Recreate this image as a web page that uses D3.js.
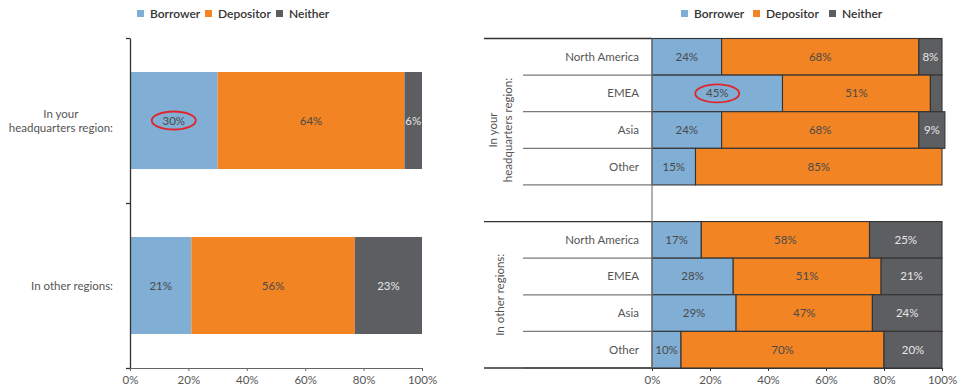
<!DOCTYPE html>
<html><head><meta charset="utf-8">
<script src="https://cdn.jsdelivr.net/npm/d3@7"></script>
<style>
html,body{margin:0;padding:0;background:#fff;}
svg{display:block;font-family:Lato,"Open Sans",sans-serif;}
</style></head>
<body><svg id="c" width="970" height="392"></svg>
<script>
const seriesNames = ["Borrower","Depositor","Neither"];
const seriesColors = ["#80aed4","#f28423","#5d5e62"];
const tickValues = [0,20,40,60,80,100];
const tickLabels = ["0%","20%","40%","60%","80%","100%"];

// Left chart
const leftCategories = ["In your\nheadquarters region:","In other regions:"];
const leftBorrower = [30,21];
const leftDepositor = [64,56];
const leftNeither = [6,23];

// Right chart
const rightGroups = ["In your\nheadquarters region:","In other regions:"];
const rightRegions = ["North America","EMEA","Asia","Other"];
const rightHqBorrower = [24,45,24,15];
const rightHqDepositor = [68,51,68,85];
const rightHqNeither = [8,4,9,0];
const rightOtherBorrower = [17,28,29,10];
const rightOtherDepositor = [58,51,47,70];
const rightOtherNeither = [25,21,24,20];

const svg = d3.select("#c");
const labelColor = "#555";

function legend(x0, offsets){
  const g = svg.append("g");
  seriesNames.forEach((s,i)=>{
    g.append("rect").attr("x",x0+offsets[i]).attr("y",10).attr("width",7).attr("height",7).attr("fill",seriesColors[i]);
    g.append("text").attr("x",x0+offsets[i]+13).attr("y",18).attr("font-size",12).attr("font-weight",600)
      .attr("fill","#333").text(s);
  });
}
legend(137,[0,68,139]);
legend(681,[0,72,148]);

function stack(b,d,n){
  return b.map((v,i)=>{
    const vals=[b[i],d[i],n[i]]; let acc=0;
    return vals.map((val,k)=>{const o={k,v:val,x0:acc,x1:acc+val}; acc+=val; return o;});
  });
}

// ---------- LEFT ----------
const xL = d3.scaleLinear().domain([0,100]).range([130,422]);
const yL = d3.scaleBand().domain(d3.range(leftCategories.length)).range([38,368]).paddingInner(0.412).paddingOuter(0.206);
const leftStack = stack(leftBorrower,leftDepositor,leftNeither);
leftStack.forEach((row,i)=>{
  const g = svg.append("g");
  row.forEach(s=>{
    if(s.v<=0) return;
    g.append("rect").attr("x",xL(s.x0)).attr("y",yL(i)).attr("width",xL(s.x1)-xL(s.x0)).attr("height",yL.bandwidth())
      .attr("fill",seriesColors[s.k]);
    if(s.v>=5) g.append("text").attr("x",(xL(s.x0)+xL(s.x1))/2).attr("y",yL(i)+yL.bandwidth()/2).attr("dy","0.35em")
      .attr("text-anchor","middle").attr("font-size",11.5).attr("fill",s.k===2?"#e6e6e6":"#4a4a4a").text(s.v+"%");
  });
});
// left y axis
const yLlin = d3.scaleLinear().domain([0,leftCategories.length]).range([38,368]);
const yAxL = svg.append("g").attr("transform","translate(130,0)")
  .call(d3.axisLeft(yLlin).tickValues(d3.range(leftCategories.length+1)).tickFormat("").tickSize(4).tickSizeOuter(0));
yAxL.selectAll("path,line").attr("stroke","#333").attr("stroke-width",1.3);
// left x axis
const xAxL = svg.append("g").attr("transform","translate(0,368)")
  .call(d3.axisBottom(xL).tickValues(tickValues).tickFormat((d,i)=>tickLabels[i]).tickSize(3).tickSizeOuter(0));
xAxL.select("path").attr("stroke","#666");
xAxL.selectAll("line").attr("stroke","#666");
xAxL.selectAll("text").attr("font-size",11.5).attr("fill",labelColor).attr("dy","0.9em").attr("font-family","Lato");
// left category labels
leftCategories.forEach((c,i)=>{
  const lines=c.split("\n");
  const cy=yL(i)+yL.bandwidth()/2;
  const t=svg.append("text").attr("font-size",11.5).attr("fill",labelColor).attr("text-anchor","middle");
  const ts=lines.map((l,j)=>t.append("tspan").attr("y",cy+(j-(lines.length-1)/2)*14).attr("dy","0.35em").text(l));
  const w=d3.max(ts,s=>s.node().getComputedTextLength());
  ts.forEach(s=>s.attr("x",113-w/2));
});
// ellipse left
svg.append("ellipse").attr("cx",xL(leftBorrower[0]/2)).attr("cy",yL(0)+yL.bandwidth()/2).attr("rx",22).attr("ry",9)
  .attr("fill","none").attr("stroke","#e0262a").attr("stroke-width",1.8);

// ---------- RIGHT ----------
const xR = d3.scaleLinear().domain([0,100]).range([652,942]);
const slots = [];
rightRegions.forEach((r,i)=>slots.push({g:0,i,r}));
slots.push({gap:true});
rightRegions.forEach((r,i)=>slots.push({g:1,i,r}));
const yR = d3.scaleBand().domain(d3.range(slots.length)).range([38.5,368]).padding(0);
const hqStack = stack(rightHqBorrower,rightHqDepositor,rightHqNeither);
const otStack = stack(rightOtherBorrower,rightOtherDepositor,rightOtherNeither);
const lineCol="#7a7a7a";
// separators
slots.forEach((s,si)=>{
  if(s.gap) return;
  const y0=yR(si), y1=yR(si)+yR.bandwidth();
  svg.append("line").attr("x1",523).attr("x2",652).attr("y1",y1).attr("y2",y1).attr("stroke",lineCol).attr("stroke-width",1.2);
});
// group boundaries
[yR(0), yR(5), yR(8)+yR.bandwidth()].forEach((y,i)=>{
  svg.append("line").attr("x1",484).attr("x2",i===2?942:652).attr("y1",y).attr("y2",y).attr("stroke","#333").attr("stroke-width",1.3);
});
// bars
slots.forEach((s,si)=>{
  if(s.gap) return;
  const row=(s.g===0?hqStack:otStack)[s.i];
  const g=svg.append("g");
  row.forEach(seg=>{
    if(seg.v<=0) return;
    g.append("rect").attr("x",xR(seg.x0)).attr("y",yR(si)).attr("width",xR(seg.x1)-xR(seg.x0)).attr("height",yR.bandwidth())
      .attr("fill",seriesColors[seg.k]).attr("stroke","#333").attr("stroke-width",1.1);
  });
  row.forEach(seg=>{
    if(seg.v<5) return;
    g.append("text").attr("x",(xR(seg.x0)+xR(seg.x1))/2).attr("y",yR(si)+yR.bandwidth()/2).attr("dy","0.35em")
      .attr("text-anchor","middle").attr("font-size",11.5).attr("fill",seg.k===2?"#e6e6e6":"#4a4a4a").text(seg.v+"%");
  });
  svg.append("text").attr("x",639).attr("y",yR(si)+yR.bandwidth()/2).attr("dy","0.35em").attr("text-anchor","end")
    .attr("font-size",11.5).attr("fill",labelColor).text(s.r);
});
// y axis line right
svg.append("line").attr("x1",652).attr("x2",652).attr("y1",yR(0)).attr("y2",368).attr("stroke",lineCol).attr("stroke-width",1.2);
// x axis right
const xAxR = svg.append("g").attr("transform","translate(0,368)")
  .call(d3.axisBottom(xR).tickValues(tickValues).tickFormat((d,i)=>tickLabels[i]).tickSize(3).tickSizeOuter(0));
xAxR.select("path").attr("stroke","#333");
xAxR.selectAll("line").attr("stroke","#333");
xAxR.selectAll("text").attr("font-size",11.5).attr("fill",labelColor).attr("dy","0.9em").attr("font-family","Lato");
// group labels rotated
[[0,4],[5,8]].forEach((rg,gi)=>{
  const cy=(yR(rg[0]) + (gi===0? yR(5) : yR(8)+yR.bandwidth()))/2;
  const lines=rightGroups[gi].split("\n");
  const t=svg.append("text").attr("transform",`translate(500,${cy}) rotate(-90)`).attr("text-anchor","middle")
    .attr("font-size",11.5).attr("fill",labelColor);
  lines.forEach((l,j)=>t.append("tspan").attr("x",0).attr("y",(j-(lines.length-1)/2)*15).attr("dy","0.35em").text(l));
});
// ellipse right
svg.append("ellipse").attr("cx",xR(rightHqBorrower[1]/2)).attr("cy",yR(1)+yR.bandwidth()/2).attr("rx",22).attr("ry",9)
  .attr("fill","none").attr("stroke","#e0262a").attr("stroke-width",1.8);
</script></body></html>
